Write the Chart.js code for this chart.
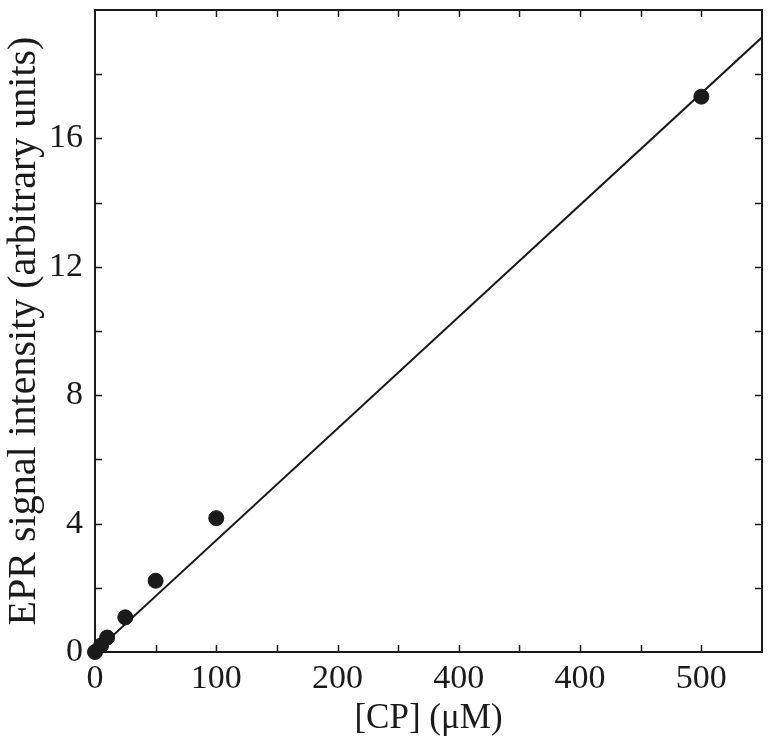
<!DOCTYPE html>
<html>
<head>
<meta charset="utf-8">
<script src="https://cdn.jsdelivr.net/npm/chart.js@4"></script>
<style>
  html, body { margin: 0; padding: 0; background: #fff; }
  #wrap { width: 772px; height: 749px; }
</style>
</head>
<body>
<div id="wrap"><canvas id="eprChart" width="772" height="749"></canvas></div>
<script>
// meetpunten
const cpConc = [0, 5, 10, 25, 50, 100, 500];          // [CP] in µM
const eprSignal = [0, 0.2, 0.45, 1.08, 2.22, 4.17, 17.3];

// fitlijn (begin en eind)
const fitX = [0, 550];
const fitY = [0, 19.15];

// x-as labels zoals in de figuur
const xLabelValues = [0, 100, 200, 300, 400, 500];
const xLabelTexts = ['0', '100', '200', '400', '400', '500'];
const yLabelValues = [0, 4, 8, 12, 16];

const ink = '#1a1a1a';

// kader en naar binnen gerichte tickjes
const frameTicks = {
  id: 'frameTicks',
  afterDatasetsDraw(chart) {
    const { ctx, chartArea: a, scales } = chart;
    ctx.save();
    ctx.strokeStyle = ink;
    ctx.lineWidth = 1.5;
    const len = 7;
    scales.x.ticks.forEach(t => {
      if (t.value <= 0 || t.value >= 550) return;
      const px = Math.round(scales.x.getPixelForValue(t.value)) + 0.5;
      ctx.beginPath();
      ctx.moveTo(px, a.bottom); ctx.lineTo(px, a.bottom - len);
      ctx.moveTo(px, a.top); ctx.lineTo(px, a.top + len);
      ctx.stroke();
    });
    scales.y.ticks.forEach(t => {
      if (t.value <= 0 || t.value >= 20) return;
      const py = Math.round(scales.y.getPixelForValue(t.value)) + 0.5;
      ctx.beginPath();
      ctx.moveTo(a.left, py); ctx.lineTo(a.left + len, py);
      ctx.moveTo(a.right, py); ctx.lineTo(a.right - len, py);
      ctx.stroke();
    });
    ctx.lineWidth = 2;
    ctx.strokeRect(a.left, a.top, a.right - a.left, a.bottom - a.top);
    ctx.restore();
  }
};

const ctx = document.getElementById('eprChart').getContext('2d');
new Chart(ctx, {
  type: 'scatter',
  data: {
    datasets: [{
      type: 'line',
      data: fitX.map((x, i) => ({ x: x, y: fitY[i] })),
      borderColor: ink,
      borderWidth: 2,
      pointRadius: 0,
      fill: false,
      order: 2
    }, {
      data: cpConc.map((x, i) => ({ x: x, y: eprSignal[i] })),
      backgroundColor: ink,
      borderColor: ink,
      pointRadius: 7.5,
      pointHoverRadius: 7.5,
      clip: false,
      order: 1
    }]
  },
  options: {
    responsive: false,
    animation: false,
    layout: { padding: { top: 10, right: 10, left: 0, bottom: 0 } },
    plugins: { legend: { display: false }, tooltip: { enabled: false } },
    scales: {
      x: {
        type: 'linear',
        min: 0, max: 550,
        border: { display: false },
        grid: { display: false, drawTicks: false },
        afterFit: s => { s.height = 97; s.paddingLeft = 0; s.paddingRight = 0; },
        ticks: {
          stepSize: 50,
          padding: 7,
          maxRotation: 0,
          autoSkip: false,
          color: ink,
          font: { family: 'Liberation Serif', size: 34 },
          callback: v => {
            const i = xLabelValues.indexOf(v);
            return i >= 0 ? xLabelTexts[i] : '';
          }
        },
        title: {
          display: true,
          text: '[CP] (\u03bcM)',
          color: ink,
          font: { family: 'Liberation Serif', size: 35 },
          padding: { top: 0, bottom: 9 }
        }
      },
      y: {
        type: 'linear',
        min: 0, max: 20,
        border: { display: false },
        grid: { display: false, drawTicks: false },
        afterFit: s => { s.width = 95; s.paddingTop = 0; s.paddingBottom = 0; },
        ticks: {
          stepSize: 2,
          padding: 12,
          autoSkip: false,
          color: ink,
          font: { family: 'Liberation Serif', size: 34 },
          callback: v => yLabelValues.includes(v) ? String(v) : ''
        },
        title: {
          display: true,
          text: 'EPR signal intensity (arbitrary units)',
          color: ink,
          font: { family: 'Liberation Serif', size: 40 },
          padding: { top: 0, bottom: 0 }
        }
      }
    }
  },
  plugins: [frameTicks]
});
</script>
</body>
</html>
